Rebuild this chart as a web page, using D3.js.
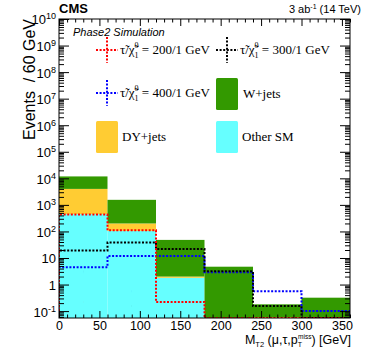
<!DOCTYPE html>
<html>
<head>
<meta charset="utf-8">
<script src="https://cdn.jsdelivr.net/npm/d3@7"></script>
<style>
  body { margin: 0; background: #fff; }
  text { font-family: "Liberation Sans", Helvetica, Arial, sans-serif; }
  .serif { font-family: "Liberation Serif", "Times New Roman", serif; }
</style>
</head>
<body>
<svg id="chart" width="369" height="354"></svg>
<script>
// bin edges in GeV
var binEdges = [0, 60, 120, 180, 240, 300, 360];

// stacked backgrounds, per bin
var otherSM = [450, 105, 1.8, 0, 0, 0];
var dyJets  = [3550, 95, 0.2, 0, 0.06, 0];
var wJets   = [7800, 1350, 46, 4.7, 0.12, 0.32];
var wJetsErr = [0, 0, 0, 1.0, 0, 0.17];

// signal points
var sig200 = [430, 110, 0.22, 0, 0, 0];
var sig300 = [19, 38, 22, 3.15, 0.155, 0];
var sig400 = [4.5, 12, 12, 2.9, 0.56, 0.1];
var err200 = [0, 0, 0.18, 0, 0, 0];
var err300 = [0, 0, 0, 0.3, 0.15, 0];
var err400 = [0, 0, 0, 0.3, 0.08, 0.02];

var xTicks = [0, 50, 100, 150, 200, 250, 300, 350];
var yTicks = [0.1, 1, 10, 1e2, 1e3, 1e4, 1e5, 1e6, 1e7, 1e8, 1e9, 1e10];

var colors = { w: '#339900', dy: '#ffcc33', other: '#66ffff' };

var svg = d3.select('#chart');
var m = { left: 59, right: 350, top: 19, bottom: 318 };

var x = d3.scaleLinear().domain([0, 360]).range([m.left, m.right]);
var y = d3.scaleLog().domain([0.055, 1e10]).range([m.bottom, m.top]).clamp(true);
function yy(v) { return v > 0 ? y(v) : m.bottom; }

svg.append('clipPath').attr('id', 'plotclip')
  .append('rect')
    .attr('x', m.left).attr('y', m.top)
    .attr('width', m.right - m.left).attr('height', m.bottom - m.top);

var plot = svg.append('g').attr('clip-path', 'url(#plotclip)');

// stacked histogram
var rows = binEdges.slice(0, -1).map(function(e, i) {
  return { x0: e, x1: binEdges[i + 1], other: otherSM[i], dy: dyJets[i], w: wJets[i] };
});
var stack = d3.stack().keys(['other', 'dy', 'w'])(rows);

plot.selectAll('g.layer')
    .data(stack)
  .enter().append('g')
    .attr('class', 'layer')
    .attr('fill', function(d) { return colors[d.key]; })
  .selectAll('rect')
    .data(function(d) { return d; })
  .enter().append('rect')
    .attr('x', function(d) { return x(d.data.x0); })
    .attr('width', function(d) { return x(d.data.x1) - x(d.data.x0); })
    .attr('y', function(d) { return yy(d[1]); })
    .attr('height', function(d) { return Math.max(0, yy(d[0]) - yy(d[1])); });

// W+jets stat error on top of stack
var totals = rows.map(function(r) { return r.other + r.dy + r.w; });
plot.selectAll('line.werr')
    .data(totals)
  .enter().append('line')
    .attr('class', 'werr')
    .filter(function(d, i) { return wJetsErr[i] > 0; })
    .attr('x1', function(d, i) { return x((binEdges[i] + binEdges[i + 1]) / 2); })
    .attr('x2', function(d, i) { return x((binEdges[i] + binEdges[i + 1]) / 2); })
    .attr('y1', function(d, i) { return yy(d + wJetsErr[i]); })
    .attr('y2', function(d, i) { return yy(d); })
    .attr('stroke', colors.w).attr('stroke-width', 1.5);

// signal step lines
var stepLine = d3.line()
  .x(function(d) { return x(d[0]); })
  .y(function(d) { return yy(d[1]); })
  .curve(d3.curveStepAfter);

function drawSignal(vals, errs, color) {
  var pts = [[0, 0]];
  vals.forEach(function(v, i) { pts.push([binEdges[i], v]); });
  pts.push([360, vals[vals.length - 1]]);
  pts.push([360, 0]);

  plot.append('path')
    .attr('d', stepLine(pts))
    .attr('fill', 'none')
    .attr('stroke', color)
    .attr('stroke-width', 2)
    .attr('stroke-dasharray', '2,1.6');

  plot.selectAll(null)
      .data(vals)
    .enter().append('line')
      .filter(function(d, i) { return errs[i] > 0; })
      .attr('x1', function(d, i) { return x((binEdges[i] + binEdges[i + 1]) / 2); })
      .attr('x2', function(d, i) { return x((binEdges[i] + binEdges[i + 1]) / 2); })
      .attr('y1', function(d, i) { return yy(d + errs[i]); })
      .attr('y2', function(d, i) { return yy(d - errs[i]); })
      .attr('stroke', color)
      .attr('stroke-width', 2)
      .attr('stroke-dasharray', '2,1.6');
}

drawSignal(sig400, err400, '#0000ff');
drawSignal(sig300, err300, '#000000');
drawSignal(sig200, err200, '#ff0000');

// axes: ticks inside the frame, on all four sides
function minorY() {
  var out = [];
  for (var e = -2; e < 10; e++) {
    for (var k = 2; k < 10; k++) {
      var v = k * Math.pow(10, e);
      if (v > 0.055 && v < 1e10) out.push(v);
    }
  }
  return out;
}
var xMinor = d3.range(0, 361, 10).filter(function(v) { return v % 50 !== 0; });

function styleAxis(g) {
  g.select('.domain').remove();
  g.selectAll('line').attr('stroke', '#000');
}

svg.append('g')
  .attr('transform', 'translate(0,' + m.bottom + ')')
  .call(d3.axisBottom(x).tickValues(xMinor).tickSizeInner(-3.5).tickFormat(''))
  .call(styleAxis);
svg.append('g')
  .attr('transform', 'translate(0,' + m.top + ')')
  .call(d3.axisTop(x).tickValues(xMinor).tickSizeInner(-3.5).tickFormat(''))
  .call(styleAxis);
svg.append('g')
  .attr('transform', 'translate(0,' + m.top + ')')
  .call(d3.axisTop(x).tickValues(xTicks).tickSizeInner(-7).tickFormat(''))
  .call(styleAxis);
var xAxis = svg.append('g')
  .attr('transform', 'translate(0,' + m.bottom + ')')
  .call(d3.axisBottom(x).tickValues(xTicks).tickSizeInner(-7).tickPadding(3))
  .call(styleAxis);
xAxis.selectAll('text')
  .attr('font-size', 12.5).attr('font-family', '"Liberation Sans", Helvetica, Arial, sans-serif');

svg.append('g')
  .attr('transform', 'translate(' + m.left + ',0)')
  .call(d3.axisLeft(y).tickValues(minorY()).tickSizeInner(-5).tickFormat(''))
  .call(styleAxis);
svg.append('g')
  .attr('transform', 'translate(' + m.right + ',0)')
  .call(d3.axisRight(y).tickValues(minorY()).tickSizeInner(-5).tickFormat(''))
  .call(styleAxis);
svg.append('g')
  .attr('transform', 'translate(' + m.right + ',0)')
  .call(d3.axisRight(y).tickValues(yTicks).tickSizeInner(-10).tickFormat(''))
  .call(styleAxis);
var yAxis = svg.append('g')
  .attr('transform', 'translate(' + m.left + ',0)')
  .call(d3.axisLeft(y).tickValues(yTicks).tickSizeInner(-10).tickPadding(4).tickFormat(''))
  .call(styleAxis);

yAxis.selectAll('.tick').append('text')
  .attr('x', -3).attr('dy', '0.38em')
  .attr('text-anchor', 'end')
  .attr('fill', '#000')
  .attr('font-size', 13)
  .each(function(d) {
    var t = d3.select(this);
    var e = Math.round(Math.log10(d));
    if (e === 0) { t.text('1'); return; }
    if (e === 1) { t.text('10'); return; }
    t.append('tspan').text('10');
    t.append('tspan').attr('dy', -5).attr('font-size', 9).text(e);
  });

// frame
svg.append('rect')
  .attr('x', m.left).attr('y', m.top)
  .attr('width', m.right - m.left).attr('height', m.bottom - m.top)
  .attr('fill', 'none').attr('stroke', '#000').attr('stroke-width', 1);

// axis titles
var xt = svg.append('text')
  .attr('x', m.right + 1).attr('y', 344)
  .attr('text-anchor', 'end').attr('font-size', 12.5);
xt.append('tspan').text('M');
xt.append('tspan').attr('font-size', 7.5).attr('dy', 3).text('T2');
xt.append('tspan').attr('dy', -3).text(' (\u03bc,\u03c4,p');
xt.append('tspan').attr('font-size', 7).attr('dy', 3).text('T');
xt.append('tspan').attr('font-size', 6.5).attr('dx', -4).attr('dy', -8).text('miss');
xt.append('tspan').attr('dy', 5).text(') [GeV]');

svg.append('text')
  .attr('transform', 'translate(35,' + m.top + ') rotate(-90)')
  .attr('text-anchor', 'end').attr('font-size', 16)
  .text('Events\u00a0\u00a0/ 60 GeV');

// header
svg.append('text')
  .attr('x', m.left).attr('y', 13)
  .attr('font-size', 13).attr('font-weight', 'bold')
  .text('CMS');
var lumi = svg.append('text')
  .attr('x', 361).attr('y', 13)
  .attr('text-anchor', 'end').attr('font-size', 11);
lumi.append('tspan').text('3 ab');
lumi.append('tspan').attr('font-size', 7).attr('dy', -4).text('-1');
lumi.append('tspan').attr('dy', 4).text(' (14 TeV)');

svg.append('text')
  .attr('x', 73).attr('y', 36)
  .attr('font-size', 11).attr('font-style', 'italic')
  .text('Phase2 Simulation');

// legend
var sigLegend = [
  { color: '#ff0000', label: '200/1 GeV', cx: 107, cy: 50 },
  { color: '#000000', label: '300/1 GeV', cx: 227, cy: 50 },
  { color: '#0000ff', label: '400/1 GeV', cx: 107, cy: 93 }
];
var boxLegend = [
  { color: colors.w, label: 'W+jets', bx: 216, by: 78, tx: 243 },
  { color: colors.dy, label: 'DY+jets', bx: 96, by: 121, tx: 122 },
  { color: colors.other, label: 'Other SM', bx: 216, by: 121, tx: 242 }
];

var sl = svg.selectAll('g.sleg')
    .data(sigLegend)
  .enter().append('g')
    .attr('class', 'sleg');
sl.append('line')
  .attr('x1', function(d) { return d.cx - 11; }).attr('x2', function(d) { return d.cx + 11; })
  .attr('y1', function(d) { return d.cy; }).attr('y2', function(d) { return d.cy; })
  .attr('stroke', function(d) { return d.color; })
  .attr('stroke-width', 2).attr('stroke-dasharray', '2,1.6');
sl.append('line')
  .attr('x1', function(d) { return d.cx; }).attr('x2', function(d) { return d.cx; })
  .attr('y1', function(d) { return d.cy - 13; }).attr('y2', function(d) { return d.cy + 13; })
  .attr('stroke', function(d) { return d.color; })
  .attr('stroke-width', 2).attr('stroke-dasharray', '2,1.6');
var st = sl.append('text')
  .attr('class', 'serif')
  .attr('x', function(d) { return d.cx + 13; })
  .attr('y', function(d) { return d.cy + 4; })
  .attr('font-size', 13);
st.append('tspan').text('\u03c4\u0303/\u03c7\u0303');
st.append('tspan').attr('font-size', 8).attr('dy', 4).text('1');
st.append('tspan').attr('font-size', 8).attr('dx', -4).attr('dy', -10).text('0');
st.append('tspan').attr('dy', 6).text(function(d) { return ' = ' + d.label; });

var bl = svg.selectAll('g.bleg')
    .data(boxLegend)
  .enter().append('g')
    .attr('class', 'bleg');
bl.append('rect')
  .attr('x', function(d) { return d.bx; }).attr('y', function(d) { return d.by; })
  .attr('width', 22).attr('height', 32).attr('rx', 1.5)
  .attr('fill', function(d) { return d.color; });
bl.append('text')
  .attr('class', 'serif')
  .attr('x', function(d) { return d.tx; })
  .attr('y', function(d) { return d.by + 20; })
  .attr('font-size', 13)
  .text(function(d) { return d.label; });
</script>
</body>
</html>
